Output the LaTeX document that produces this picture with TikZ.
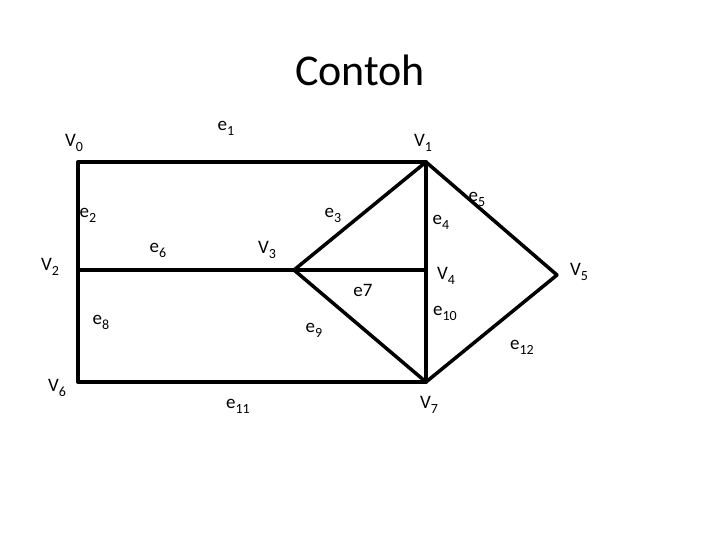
\documentclass[tikz,border=0pt]{standalone}
\usepackage{fontspec}
\setmainfont{Carlito}
\newcommand{\sbs}[1]{\raisebox{-0.55ex}{\fontsize{14}{14}\selectfont #1}}
\begin{document}
\begin{tikzpicture}[x=1pt,y=-1pt,
  edge/.style={line width=3.5pt,line cap=round,line join=round},
  lbl/.style={font=\fontsize{19}{22}\selectfont,inner sep=0pt}]
\useasboundingbox (0,0) rectangle (720,540);
\node[font=\fontsize{44}{50}\selectfont] (title) at (360,70) {Contoh};
\coordinate (v0) at (78,162);
\coordinate (v1) at (426,162);
\coordinate (v2) at (78,270);
\coordinate (v3) at (294,270);
\coordinate (v4) at (426,270);
\coordinate (v5) at (557,275);
\coordinate (v6) at (78,382);
\coordinate (v7) at (426,382);
\draw[edge] (v0) -- (v1);
\draw[edge] (v0) -- (v2);
\draw[edge] (v2) -- (v6);
\draw[edge] (v2) -- (v3);
\draw[edge] (v3) -- (v1);
\draw[edge] (v3) -- (v4);
\draw[edge] (v3) -- (v7);
\draw[edge] (v1) -- (v4);
\draw[edge] (v4) -- (v7);
\draw[edge] (v1) -- (v5);
\draw[edge] (v5) -- (v7);
\draw[edge] (v6) -- (v7);
\node[lbl] (lv0) at (74,143) {V\sbs{0}};
\node[lbl] (lv1) at (423,143) {V\sbs{1}};
\node[lbl] (lv2) at (50,267) {V\sbs{2}};
\node[lbl] (lv3) at (267,250) {V\sbs{3}};
\node[lbl] (lv4) at (446,276) {V\sbs{4}};
\node[lbl] (lv5) at (579,272) {V\sbs{5}};
\node[lbl] (lv6) at (57,388) {V\sbs{6}};
\node[lbl] (lv7) at (429,405) {V\sbs{7}};
\node[lbl] (le1) at (226,128) {e\sbs{1}};
\node[lbl] (le2) at (88,215) {e\sbs{2}};
\node[lbl] (le3) at (333,215) {e\sbs{3}};
\node[lbl] (le4) at (441,222) {e\sbs{4}};
\node[lbl] (le5) at (477,199) {e\sbs{5}};
\node[lbl] (le6) at (158,250) {e\sbs{6}};
\node[lbl] (le7) at (363,290) {e7};
\node[lbl] (le8) at (101,322) {e\sbs{8}};
\node[lbl] (le9) at (314,330) {e\sbs{9}};
\node[lbl] (le10) at (445,313) {e\sbs{10}};
\node[lbl] (le11) at (238,406) {e\sbs{11}};
\node[lbl] (le12) at (522,347) {e\sbs{12}};
\end{tikzpicture}
\end{document}
